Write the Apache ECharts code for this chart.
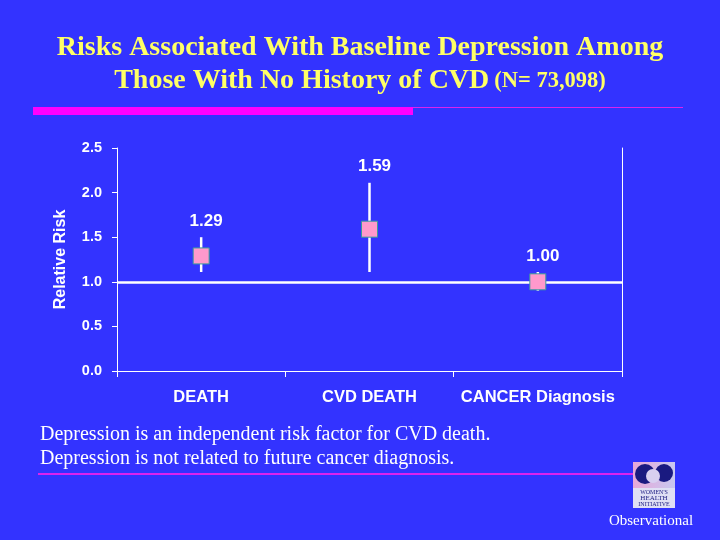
<!DOCTYPE html>
<html>
<head>
<meta charset="utf-8">
<script src="https://cdn.jsdelivr.net/npm/echarts@6/dist/echarts.min.js"></script>
<style>
html,body{margin:0;padding:0;background:#3333FF;}
#chart{width:720px;height:540px;}
</style>
</head>
<body>
<div id="chart"></div>
<script>
const categories = ['DEATH', 'CVD DEATH', 'CANCER Diagnosis'];
const relativeRisk = [1.29, 1.59, 1.00];
const ciLower = [1.11, 1.11, 0.90];
const ciUpper = [1.50, 2.11, 1.11];
const riskLabels = ['1.29', '1.59', '1.00'];
const referenceValue = 1.0;
const yMin = 0, yMax = 2.5, yStep = 0.5;

const chart = echarts.init(document.getElementById('chart'));

const seriesData = categories.map((c, i) => [i, relativeRisk[i], ciLower[i], ciUpper[i]]);

const option = {
  backgroundColor: '#3333FF',
  animation: false,
  title: [
    {
      text: 'Risks Associated With Baseline Depression Among',
      left: 'center', top: 29,
      textStyle: { color: '#FFFF66', fontFamily: 'Liberation Serif', fontWeight: 'bold', fontSize: 28 }
    },
    {
      text: '{a|Those With No History of CVD} {b|(N= 73,098)}',
      left: 'center', top: 62,
      textStyle: {
        rich: {
          a: { color: '#FFFF66', fontFamily: 'Liberation Serif', fontWeight: 'bold', fontSize: 28 },
          b: { color: '#FFFF66', fontFamily: 'Liberation Serif', fontWeight: 'bold', fontSize: 22.5 }
        }
      }
    }
  ],
  grid: { left: 117, right: 98, top: 148, bottom: 169 },
  xAxis: {
    type: 'category',
    data: categories,
    boundaryGap: true,
    axisLine: { lineStyle: { color: '#FFFFFF', width: 1 } },
    axisTick: { show: true, interval: 0, length: 6, lineStyle: { color: '#FFFFFF' } },
    axisLabel: { interval: 0, color: '#FFFFFF', fontFamily: 'Liberation Sans', fontWeight: 'bold', fontSize: 16.5, margin: 18 }
  },
  yAxis: [
    {
      type: 'value', min: yMin, max: yMax, interval: yStep,
      name: 'Relative Risk', nameLocation: 'middle', nameGap: 48, nameRotate: 90,
      nameTextStyle: { color: '#FFFFFF', fontFamily: 'Liberation Sans', fontWeight: 'bold', fontSize: 16 },
      axisLine: { show: true, lineStyle: { color: '#FFFFFF', width: 1 } },
      axisTick: { show: true, length: 5, inside: false, lineStyle: { color: '#FFFFFF' } },
      splitLine: { show: false },
      axisLabel: { color: '#FFFFFF', fontFamily: 'Liberation Sans', fontWeight: 'bold', fontSize: 14.5, margin: 15,
        formatter: v => v.toFixed(1) }
    },
    {
      type: 'value', min: yMin, max: yMax, interval: yStep, position: 'right',
      axisLine: { show: true, lineStyle: { color: '#FFFFFF', width: 1 } },
      axisTick: { show: false }, axisLabel: { show: false }, splitLine: { show: false }
    }
  ],
  series: [
    {
      type: 'line',
      data: [],
      z: 1,
      markLine: {
        silent: true, symbol: 'none', label: { show: false },
        lineStyle: { color: '#FFFFFF', width: 2.5, type: 'solid' },
        data: [{ yAxis: referenceValue }]
      }
    },
    {
      type: 'custom',
      z: 5,
      data: seriesData,
      renderItem: function (params, api) {
        const i = api.value(0);
        const pt = api.coord([i, api.value(1)]);
        const lo = api.coord([i, api.value(2)]);
        const hi = api.coord([i, api.value(3)]);
        const s = 16;
        return {
          type: 'group',
          children: [
            { type: 'line', shape: { x1: pt[0], y1: lo[1], x2: pt[0], y2: hi[1] },
              style: { stroke: '#FFFFFF', lineWidth: 2.5 } },
            { type: 'rect', shape: { x: pt[0] - s / 2, y: pt[1] - s / 2, width: s, height: s },
              style: { fill: '#FF99CC', stroke: '#3A9A9A', lineWidth: 1 } },
            { type: 'text', x: pt[0] + 5, y: hi[1] - 16,
              style: { text: riskLabels[params.dataIndex], fill: '#FFFFFF', font: 'bold 17px "Liberation Sans"',
                align: 'center', verticalAlign: 'middle' } }
          ]
        };
      }
    }
  ],
  graphic: [
    { type: 'rect', shape: { x: 33, y: 107, width: 380, height: 8 }, style: { fill: '#FF00FF' } },
    { type: 'line', shape: { x1: 413, y1: 107.5, x2: 683, y2: 107.5 }, style: { stroke: '#DD22EE', lineWidth: 1 } },
    { type: 'line', shape: { x1: 38, y1: 474, x2: 633, y2: 474 }, style: { stroke: '#DD22EE', lineWidth: 2 } },
    { type: 'text', x: 40, y: 435, style: { text: 'Depression is an independent risk factor for CVD death.',
        fill: '#FFFFFF', font: '20px "Liberation Serif"', verticalAlign: 'middle' } },
    { type: 'text', x: 40, y: 459, style: { text: 'Depression is not related to future cancer diagnosis.',
        fill: '#FFFFFF', font: '20px "Liberation Serif"', verticalAlign: 'middle' } },
    { type: 'text', x: 651, y: 521, style: { text: 'Observational', fill: '#FFFFFF',
        font: '15px "Liberation Serif"', align: 'center', verticalAlign: 'middle' } },
    // logo
    { type: 'rect', shape: { x: 633, y: 462, width: 42, height: 46 },
      style: { fill: new echarts.graphic.LinearGradient(0, 0, 1, 0, [
        { offset: 0, color: '#E8A8D8' }, { offset: 1, color: '#C8C8F0' }]) } },
    { type: 'circle', shape: { cx: 645, cy: 474, r: 10 }, style: { fill: '#1A1A80' } },
    { type: 'circle', shape: { cx: 664, cy: 473, r: 9 }, style: { fill: '#1A1A80' } },
    { type: 'circle', shape: { cx: 653, cy: 476, r: 7 }, style: { fill: '#D8D0F0' } },
    { type: 'rect', shape: { x: 633, y: 488, width: 42, height: 20 }, style: { fill: '#E0E0F4' } },
    { type: 'text', x: 654, y: 492, style: { text: "WOMEN'S", fill: '#1A1A80', font: '6px "Liberation Serif"', align: 'center', verticalAlign: 'middle' } },
    { type: 'text', x: 654, y: 498, style: { text: 'HEALTH', fill: '#1A1A80', font: '7px "Liberation Serif"', align: 'center', verticalAlign: 'middle' } },
    { type: 'text', x: 654, y: 504, style: { text: 'INITIATIVE', fill: '#1A1A80', font: '6px "Liberation Serif"', align: 'center', verticalAlign: 'middle' } }
  ]
};
chart.setOption(option);
</script>
</body>
</html>
